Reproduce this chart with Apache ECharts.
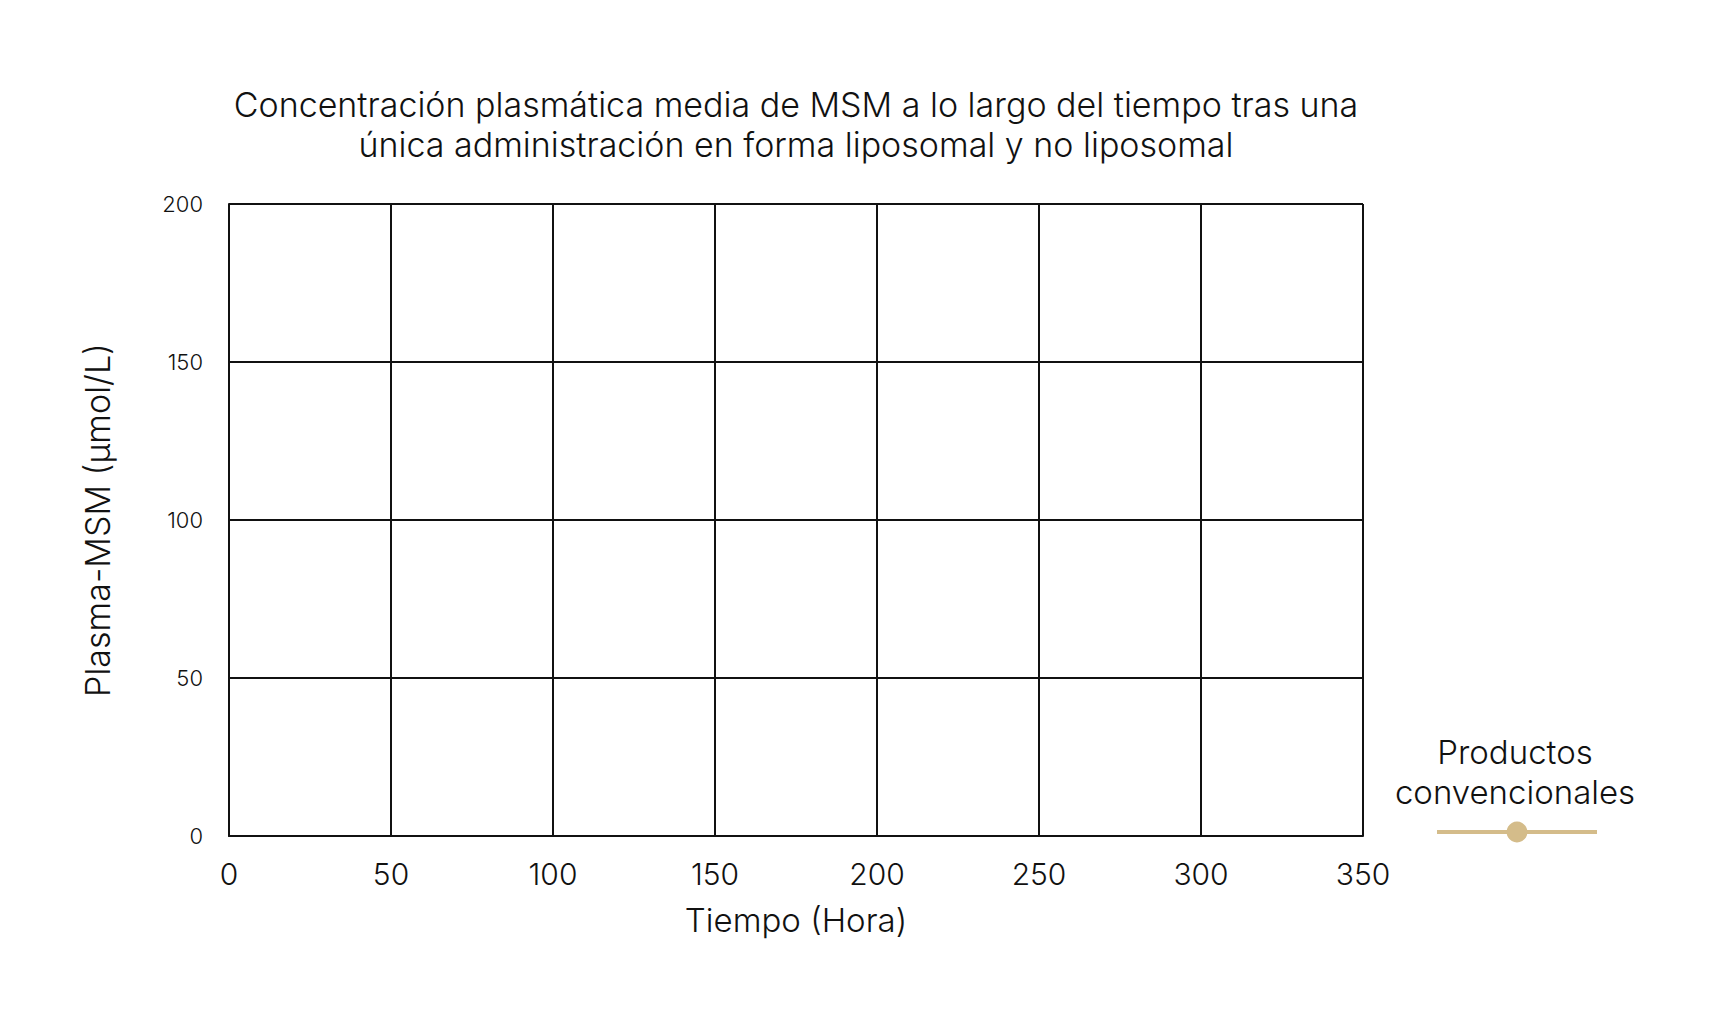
<!DOCTYPE html>
<html lang="es">
<head>
    <meta charset="UTF-8">
    <title>MSM</title>
    <script src="https://cdn.jsdelivr.net/npm/echarts@6/dist/echarts.min.js"></script>
    <style type="text/css">
        html, body { height: 100%; margin: 0; background: #fff; }
    </style>
</head>
<body>
<div id="main" style="width: 100%;height:100%;"></div>
<script>
    // datos (el gráfico original no muestra puntos)
    const seriesName = 'Productos convencionales';
    const horas = [];
    const plasmaMSM = [];
    const xTicks = [0, 50, 100, 150, 200, 250, 300, 350];
    const yTicks = [0, 50, 100, 150, 200];

    const FONT = 'Inter';
    const myChart = echarts.init(document.getElementById('main'), null, {renderer: 'svg'});
    const option = {
        animation: false,
        textStyle: {fontFamily: FONT},
        graphic: [{
            type: 'text',
            x: 796,
            y: 124,
            style: {
                text: 'Concentración plasmática media de MSM a lo largo del tiempo tras una\núnica administración en forma liposomal y no liposomal',
                align: 'center',
                verticalAlign: 'middle',
                font: '300 34px ' + FONT,
                lineHeight: 40,
                fill: '#111'
            }
        }, {
            type: 'text',
            x: 1515,
            y: 772,
            style: {
                text: 'Productos\nconvencionales',
                align: 'center',
                verticalAlign: 'middle',
                font: '300 33px ' + FONT,
                lineHeight: 40,
                fill: '#111'
            }
        }],
        legend: {
            left: 1435,
            top: 819,
            padding: 0,
            itemWidth: 160,
            itemHeight: 26,
            lineStyle: {width: 4},
            formatter: function () { return ''; },
            data: [seriesName]
        },
        grid: {left: 229, right: 356, top: 204, bottom: 193},
        xAxis: {
            type: 'value',
            min: xTicks[0],
            max: xTicks[xTicks.length - 1],
            interval: 50,
            name: 'Tiempo (Hora)',
            nameLocation: 'middle',
            nameGap: 67,
            nameTextStyle: {fontSize: 33, color: '#111', fontWeight: 300},
            axisLine: {lineStyle: {color: '#111', width: 2}},
            axisTick: {show: false},
            axisLabel: {fontSize: 30, color: '#111', margin: 23, fontWeight: 300},
            splitLine: {lineStyle: {color: '#111', width: 2}}
        },
        yAxis: {
            type: 'value',
            min: yTicks[0],
            max: yTicks[yTicks.length - 1],
            interval: 50,
            name: 'Plasma-MSM (µmol/L)',
            nameLocation: 'middle',
            nameRotate: 90,
            nameGap: 115,
            nameTextStyle: {fontSize: 34, color: '#111', fontWeight: 300},
            axisLine: {show: true, lineStyle: {color: '#111', width: 2}},
            axisTick: {show: false},
            axisLabel: {fontSize: 22, color: '#111', margin: 26, fontWeight: 300},
            splitLine: {lineStyle: {color: '#111', width: 2}}
        },
        series: [{
            name: seriesName,
            type: 'line',
            symbol: 'circle',
            symbolSize: 20,
            itemStyle: {color: '#D4BC8A'},
            lineStyle: {color: '#D4BC8A', width: 4},
            data: horas.map(function (h, i) { return [h, plasmaMSM[i]]; })
        }]
    };
    myChart.setOption(option);
    window.addEventListener('resize', function () { myChart.resize(); });
</script>
</body>
</html>
